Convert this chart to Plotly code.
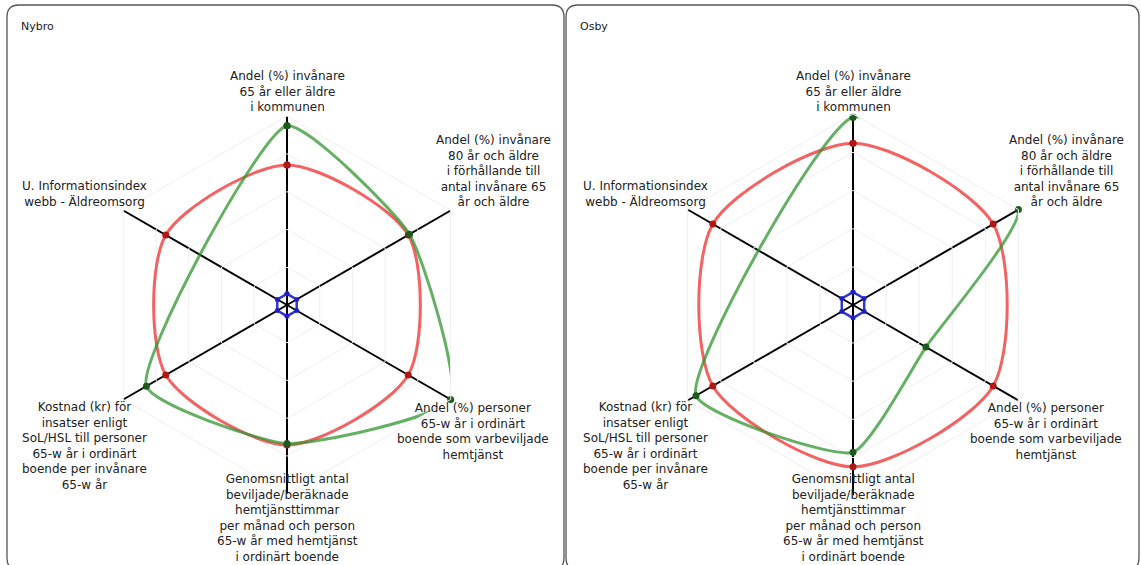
import plotly.graph_objects as go

W, H = 1141, 565

# axis labels, clockwise from the top
categories = [
    "Andel (%) invånare<br>65 år eller äldre<br>i kommunen",
    "Andel (%) invånare<br>80 år och äldre<br>i förhållande till<br>antal invånare 65<br>år och äldre",
    "Andel (%) personer<br>65-w år i ordinärt<br>boende som varbeviljade<br>hemtjänst",
    "Genomsnittligt antal<br>beviljade/beräknade<br>hemtjänsttimmar<br>per månad och person<br>65-w år med hemtjänst<br>i ordinärt boende",
    "Kostnad (kr) för<br>insatser enligt<br>SoL/HSL till personer<br>65-w år i ordinärt<br>boende per invånare<br>65-w år",
    "U. Informationsindex<br>webb - Äldreomsorg",
]
keys = ["k1", "k2", "k3", "k4", "k5", "k6"]

# index values, riket = 100
riket = [100, 100, 100, 100, 100, 100]
lagsta = [8, 8, 8, 8, 8, 8]
nybro = [128, 101, 135, 99, 116, None]
osby = [116, 118, 52, 91, 112, None]

panels = [
    # name, values, center px, radius px, label positions (px)
    ("Nybro", nybro, (287, 305), 189,
     [(287, 92), (493, 171), (473, 431), (287, 518), (84, 446), (84, 194)]),
    ("Osby", osby, (853, 305), 191,
     [(853, 92), (1066, 171), (1046, 431), (853, 518), (645, 446), (645, 194)]),
]


def px(x, y):
    return x / W, 1 - y / H


def rounded_rect(x0, y0, x1, y1, r):
    def p(x, y):
        a, b = px(x, y)
        return f"{a:.5f},{b:.5f}"
    return (f"M {p(x0 + r, y0)} L {p(x1 - r, y0)} Q {p(x1, y0)} {p(x1, y0 + r)} "
            f"L {p(x1, y1 - r)} Q {p(x1, y1)} {p(x1 - r, y1)} "
            f"L {p(x0 + r, y1)} Q {p(x0, y1)} {p(x0, y1 - r)} "
            f"L {p(x0, y0 + r)} Q {p(x0, y0)} {p(x0 + r, y0)} Z")


def closed(v):
    return v + [v[0]]


fig = go.Figure()
annotations = []
shapes = []
theta = closed(keys)

for i, (name, vals, (cx, cy), rad, labpos) in enumerate(panels):
    pid = "polar" if i == 0 else f"polar{i + 1}"
    rmax = max(v for v in vals if v is not None)

    fig.add_trace(go.Scatterpolar(
        r=closed(lagsta), theta=theta, subplot=pid, mode="lines+markers",
        line=dict(color="rgba(30,30,200,0.9)", width=2.5),
        marker=dict(size=5, color="rgba(30,30,200,0.9)"), showlegend=False))
    fig.add_trace(go.Scatterpolar(
        r=closed(riket), theta=theta, subplot=pid, mode="lines+markers",
        line=dict(color="rgba(240,60,60,0.8)", width=3, shape="spline", smoothing=0.8),
        marker=dict(size=7, color="#b01818"), showlegend=False))
    fig.add_trace(go.Scatterpolar(
        r=closed(vals), theta=theta, subplot=pid, mode="lines+markers",
        connectgaps=True,
        line=dict(color="rgba(50,150,50,0.75)", width=3, shape="spline", smoothing=0.5),
        marker=dict(size=7, color="#1d5a1d"), showlegend=False))

    x0, x1 = cx - rad, cx + rad
    y0, y1 = cy - rad, cy + rad
    fig.update_layout({pid: dict(
        domain=dict(x=[x0 / W, x1 / W], y=[1 - y1 / H, 1 - y0 / H]),
        gridshape="linear",
        bgcolor="white",
        radialaxis=dict(range=[0, rmax], dtick=rmax / 5, showticklabels=False,
                        ticks="", showline=False, gridcolor="#efefef", gridwidth=1),
        angularaxis=dict(type="category", categoryarray=keys, rotation=90,
                         direction="clockwise", showticklabels=False, ticks="",
                         gridcolor="black", gridwidth=2, showline=True,
                         linecolor="#efefef", linewidth=1),
    )})

    for cat, (lx, ly) in zip(categories, labpos):
        ax, ay = px(lx, ly)
        annotations.append(dict(text=cat, x=ax, y=ay, xref="paper", yref="paper",
                                xanchor="center", yanchor="middle", align="center",
                                showarrow=False, font=dict(size=12, color="#222")))

    tx = 19 if i == 0 else 578
    ax, ay = px(tx, 27)
    annotations.append(dict(text=name, x=ax, y=ay, xref="paper", yref="paper",
                            xanchor="left", yanchor="middle", showarrow=False,
                            font=dict(size=11, color="#222")))

shapes.append(dict(type="path", xref="paper", yref="paper",
                   path=rounded_rect(7, 5, 564, 570, 12),
                   line=dict(color="#555", width=1.3), layer="below"))
shapes.append(dict(type="path", xref="paper", yref="paper",
                   path=rounded_rect(566, 5, 1139, 570, 12),
                   line=dict(color="#555", width=1.3), layer="below"))

fig.update_layout(
    width=W, height=H,
    margin=dict(l=0, r=0, t=0, b=0),
    paper_bgcolor="white",
    font=dict(family="DejaVu Sans", size=11, color="#222"),
    annotations=annotations,
    shapes=shapes,
)

fig.write_html("out.html", config={"displayModeBar": False},
               post_script="document.body.style.margin='0';")
